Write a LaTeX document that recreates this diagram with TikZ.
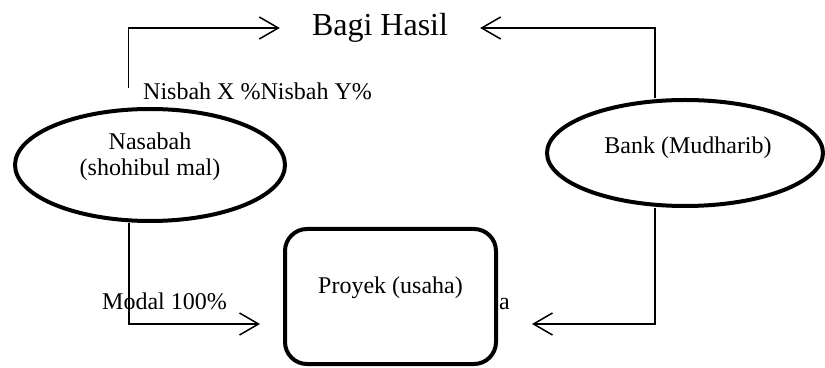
\documentclass[tikz,border=0pt]{standalone}
\usepackage{fontspec}
\setmainfont{Liberation Serif}
\usetikzlibrary{positioning,shapes.geometric,arrows.meta}

\begin{document}
\begin{tikzpicture}[x=1pt, y=1pt]
        \tikzstyle{every node}=[inner sep=0pt, font=\fontsize{24}{26}\selectfont]
        \tikzstyle{pihak}=[draw, ellipse, line width=4pt]
        \tikzstyle{usaha}=[draw, rectangle, rounded corners=22pt, line width=4pt]
        \tikzstyle{alur}=[line width=1.5pt, -{Straight Barb[length=19pt, width=22pt, line width=1.5pt]}]

        \useasboundingbox (0,0) rectangle (825,367);
        \clip (0,0) rectangle (825,367);

        \node   (hasil)    at (380,339) [inner xsep=32pt, font=\fontsize{32}{38}\selectfont] {Bagi Hasil};
        \node   (nasabah)  at (150,202) [pihak, minimum width=270pt, minimum height=112pt] {};
        \node   (bank)     at (685,214) [pihak, minimum width=276pt, minimum height=106pt] {};
        \node   (proyek)   at (390.5,70.5) [usaha, minimum width=211pt, minimum height=135pt] {};

        \node   (nasabahteks) at ([yshift=8pt]nasabah.center) [align=center] {Nasabah\\(shohibul mal)};
        \node   (bankteks)    at ([xshift=3pt, yshift=5pt]bank.center) {Bank (Mudharib)};
        \node   (proyekteks)  at ([yshift=8.5pt]proyek.center) {Proyek (usaha)};

        \node   (nisbah)   at (143,267) [anchor=base west] {Nisbah X \%Nisbah Y\%};
        \node   (modal)    at (102,57)  [anchor=base west] {Modal 100\%};
        \node   (keahlian) at (499,57)  [anchor=base west] {a};

        \coordinate (nisbahujung) at (128.5,279);

        \draw[alur] (nisbahujung) |- (hasil.west);
        \draw[alur] ([xshift=-30pt]bank.north) |- (hasil.east);
        \draw[alur] ([xshift=-21pt]nasabah.south) |- ([xshift=-23pt, yshift=-27.5pt]proyek.west);
        \draw[alur] ([xshift=-30pt]bank.south) |- ([xshift=34pt, yshift=-27.5pt]proyek.east);

    \end{tikzpicture}
\end{document}
